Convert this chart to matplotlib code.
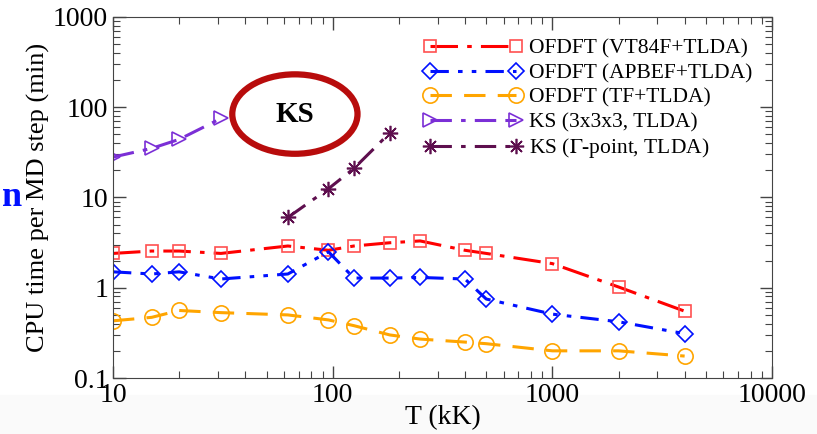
import matplotlib
matplotlib.use("Agg")
import matplotlib.pyplot as plt
from matplotlib.patches import Ellipse, Rectangle

# temperatures (kK)
T_OF = [10, 15, 20, 31, 62.5, 95.7, 125, 182, 250, 400, 500, 1000, 2000, 4000]
T_KS3 = [10, 15, 20, 31]
T_KSG = [62.5, 95.7, 125, 182]

# CPU time per MD step (min)
vt84f = [2.4, 2.55, 2.55, 2.4, 2.9, 2.6, 2.9, 3.15, 3.3, 2.6, 2.4, 1.85, 1.02, 0.55]
apbef = [1.5, 1.42, 1.5, 1.25, 1.42, 2.5, 1.28, 1.28, 1.3, 1.25, 0.75, 0.51, 0.42, 0.31]
tf = [0.43, 0.47, 0.56, 0.53, 0.5, 0.44, 0.38, 0.3, 0.27, 0.25, 0.24, 0.2, 0.2, 0.175]
ks333 = [28, 35, 44, 75]
ksgam = [6.0, 12.5, 21.0, 52.0]

labels = ["OFDFT (VT84F+TLDA)", "OFDFT (APBEF+TLDA)", "OFDFT (TF+TLDA)",
          "KS (3x3x3, TLDA)", "KS ($\\Gamma$-point, TLDA)"]

plt.rcParams["font.family"] = ["Liberation Serif", "DejaVu Serif"]
plt.rcParams["mathtext.fontset"] = "stix"

fig = plt.figure(figsize=(8.17, 4.34), dpi=100)
fig.patches.append(Rectangle((0, 0), 1, 0.09, transform=fig.transFigure,
                             color="#fafafa", zorder=-10))
ax = fig.add_axes([0.1383, 0.129, 0.8067, 0.832])

series = [
    (T_OF, vt84f, "red", "#ff5050", "s", (0, (9, 3, 1.5, 3)), 9),
    (T_OF, apbef, "#0010ff", "#0010ff", "D", (0, (6, 3, 1.5, 3, 1.5, 3)), 8),
    (T_OF, tf, "#ffa500", "#ffa500", "o", (0, (7, 4)), 11),
    (T_KS3, ks333, "#7b2fd6", "#7b2fd6", ">", (0, (7, 3, 1.5, 3, 7, 3)), 10),
    (T_KSG, ksgam, "#5e0f4e", "#5e0f4e", (8, 2, 0), (0, (7, 3, 1.5, 3)), 11),
]
for (x, y, lc, mc, mk, ls, ms), lab in zip(series, labels):
    ax.plot(x, y, color=lc, ls=ls, lw=2.2, marker=mk, ms=ms, mfc="none",
            mec=mc, mew=1.2, label=lab)

ax.set_xscale("log")
ax.set_yscale("log")
ax.set_xlim(10, 10000)
ax.set_ylim(0.1, 1000)
ax.set_xticks([10, 100, 1000, 10000])
ax.set_xticklabels(["10", "100", "1000", "10000"])
ax.set_yticks([0.1, 1, 10, 100, 1000])
ax.set_yticklabels(["0.1", "1", "10", "100", "1000"])
ax.tick_params(which="both", direction="in", top=True, right=True,
               labelsize=20, color="#444444")
ax.tick_params(which="major", length=9, width=1.0)
ax.tick_params(which="minor", length=5, width=0.8)
for s in ax.spines.values():
    s.set_color("#444444")
ax.set_xlabel("T (kK)", fontsize=20, labelpad=-2)
ax.set_ylabel("CPU time per MD step (min)", fontsize=19, labelpad=2)

ax.legend(loc="upper right", bbox_to_anchor=(0.99, 0.975), frameon=False,
          fontsize=15.5, handlelength=4.6, handletextpad=0.3, labelspacing=0.2,
          numpoints=2, borderaxespad=0.2)

# KS callout
ax.add_patch(Ellipse((0.276, 0.731), 0.19, 0.22, transform=ax.transAxes,
                     fill=False, ec="#b80c0c", lw=4.5))
ax.text(0.276, 0.731, "KS", transform=ax.transAxes, ha="center", va="center",
        fontsize=21, fontweight="bold")

fig.text(0.002, 0.545, "n", color="#0010ff", fontsize=26, fontweight="bold",
         ha="left", va="center")

fig.savefig("out.png", dpi=100)
